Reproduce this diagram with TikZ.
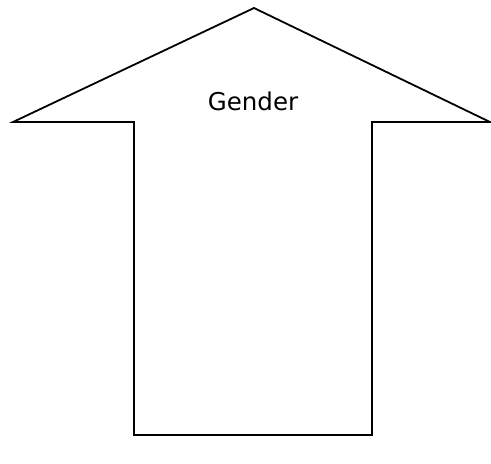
\documentclass[tikz,border=0pt]{standalone}
\usepackage{fontspec}
\setmainfont{DejaVu Sans}
\begin{document}
\begin{tikzpicture}[x=1pt,y=-1pt,
  arrowshape/.style={draw=black,line width=1.8pt,line join=miter},
  lbl/.style={font=\fontsize{24.5}{28}\selectfont,inner sep=0pt}]
\useasboundingbox (0,0) rectangle (491,464);
\coordinate (tip) at (254,8);
\coordinate (lc) at (13,122);
\coordinate (rc) at (490,122);
\coordinate (sl) at (134,122);
\coordinate (sr) at (372,122);
\coordinate (bl) at (134,435);
\coordinate (br) at (372,435);
\draw[arrowshape] (tip) -- (rc) -- (sr) -- (br) -- (bl) -- (sl) -- (lc) -- cycle;
\node[lbl,anchor=base] (g) at (253,110) {Gender};
\end{tikzpicture}
\end{document}
